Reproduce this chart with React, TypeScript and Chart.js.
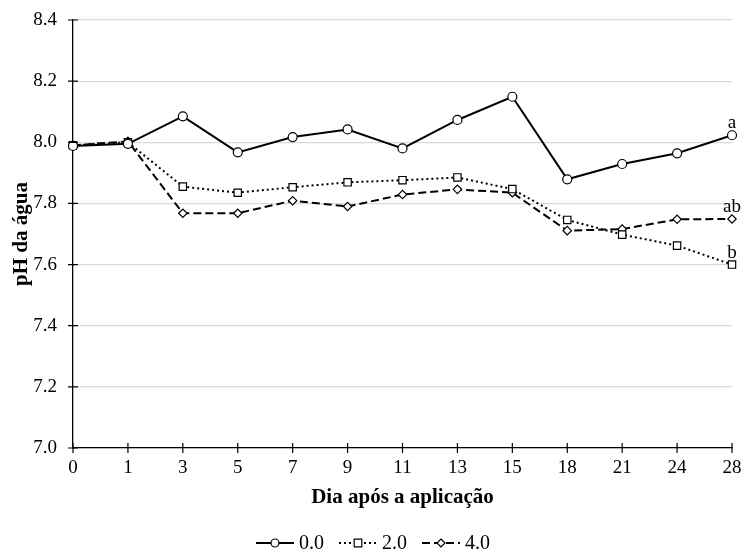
import React, { useEffect, useRef } from "react";
import { Chart, registerables } from "chart.js";

Chart.register(...registerables);

const days = ["0", "1", "3", "5", "7", "9", "11", "13", "15", "18", "21", "24", "28"];
const series00 = [7.988, 7.995, 8.085, 7.967, 8.017, 8.042, 7.98, 8.073, 8.149, 7.879, 7.929, 7.964, 8.023];
const series20 = [7.99, 8.0, 7.855, 7.835, 7.853, 7.869, 7.876, 7.885, 7.847, 7.746, 7.698, 7.662, 7.6];
const series40 = [7.99, 8.003, 7.768, 7.768, 7.809, 7.79, 7.829, 7.846, 7.835, 7.711, 7.716, 7.748, 7.749];
const seriesNames = ["0.0", "2.0", "4.0"];
const endLetters = ["a", "b", "ab"];
const yTicks = [7.0, 7.2, 7.4, 7.6, 7.8, 8.0, 8.2, 8.4];

const FONT = "'Liberation Serif', 'Times New Roman', serif";

const styles = [
  { dash: [] as number[], pointStyle: "circle", radius: 4.5 },
  { dash: [2, 3], pointStyle: "rect", radius: 5.2 },
  { dash: [8, 4], pointStyle: "rectRot", radius: 4.2 },
];

function drawMarker(ctx: CanvasRenderingContext2D, style: string, x: number, y: number) {
  ctx.save();
  ctx.setLineDash([]);
  ctx.fillStyle = "#fff";
  ctx.strokeStyle = "#000";
  ctx.lineWidth = 1.2;
  ctx.beginPath();
  if (style === "circle") {
    ctx.arc(x, y, 4, 0, Math.PI * 2);
  } else if (style === "rect") {
    ctx.rect(x - 3.8, y - 3.8, 7.6, 7.6);
  } else {
    ctx.moveTo(x, y - 4);
    ctx.lineTo(x + 4, y);
    ctx.lineTo(x, y + 4);
    ctx.lineTo(x - 4, y);
    ctx.closePath();
  }
  ctx.fill();
  ctx.stroke();
  ctx.restore();
}

const crossTicksPlugin = {
  id: "crossTicks",
  afterDraw(chart: any) {
    const { ctx, chartArea, scales } = chart;
    const x = scales.x;
    const y = scales.y;
    ctx.save();
    ctx.strokeStyle = "#000";
    ctx.lineWidth = 1.2;
    ctx.beginPath();
    yTicks.forEach((v) => {
      const py = y.getPixelForValue(v);
      ctx.moveTo(chartArea.left - 5, py);
      ctx.lineTo(chartArea.left + 5, py);
    });
    days.forEach((_, i) => {
      const px = x.getPixelForValue(i);
      ctx.moveTo(px, chartArea.bottom - 5);
      ctx.lineTo(px, chartArea.bottom + 5);
    });
    ctx.stroke();
    ctx.restore();
  },
};

const lettersPlugin = {
  id: "letters",
  afterDatasetsDraw(chart: any) {
    const { ctx, scales } = chart;
    const all = [series00, series20, series40];
    ctx.save();
    ctx.font = `19px ${FONT}`;
    ctx.fillStyle = "#000";
    ctx.textAlign = "center";
    ctx.textBaseline = "middle";
    all.forEach((data, i) => {
      const last = data.length - 1;
      const px = scales.x.getPixelForValue(last);
      const py = scales.y.getPixelForValue(data[last]);
      ctx.fillText(endLetters[i], px, py - 12);
    });
    ctx.restore();
  },
};

const legendPlugin = {
  id: "customLegend",
  afterDraw(chart: any) {
    const { ctx } = chart;
    ctx.save();
    ctx.font = `20px ${FONT}`;
    ctx.textBaseline = "middle";
    ctx.textAlign = "left";
    const sample = 38;
    const gap = 5;
    const spacing = 15;
    const widths = seriesNames.map((n) => sample + gap + ctx.measureText(n).width);
    const total = widths.reduce((a, b) => a + b, 0) + spacing * (seriesNames.length - 1);
    let x = chart.width / 2 + 1 - total / 2;
    const y = 543;
    seriesNames.forEach((n, i) => {
      const st = styles[i];
      ctx.save();
      ctx.strokeStyle = "#000";
      ctx.lineWidth = 2;
      ctx.setLineDash(st.dash);
      ctx.beginPath();
      ctx.moveTo(x, y);
      ctx.lineTo(x + sample, y);
      ctx.stroke();
      ctx.restore();
      drawMarker(ctx, st.pointStyle, x + sample / 2, y);
      ctx.fillStyle = "#000";
      ctx.fillText(n, x + sample + gap, y + 1);
      x += widths[i] + spacing;
    });
    ctx.restore();
  },
};

export default function App() {
  const ref = useRef<HTMLCanvasElement | null>(null);
  useEffect(() => {
    if (!ref.current) return;
    const all = [series00, series20, series40];
    const chart = new Chart(ref.current, {
      type: "line",
      data: {
        labels: days,
        datasets: all.map((data, i) => ({
          label: seriesNames[i],
          data,
          borderColor: "#000",
          backgroundColor: "#fff",
          borderWidth: 2,
          borderDash: styles[i].dash,
          pointStyle: styles[i].pointStyle as any,
          pointRadius: styles[i].radius,
          pointBorderWidth: 1.2,
          pointBorderColor: "#000",
          pointBackgroundColor: "#fff",
          tension: 0,
          fill: false,
        })),
      },
      options: {
        responsive: false,
        animation: false,
        layout: { padding: { left: 0, right: 12, top: 20, bottom: 40 } },
        plugins: {
          legend: { display: false },
          tooltip: { enabled: false },
        },
        scales: {
          x: {
            type: "category",
            offset: false,
            grid: { display: false, drawTicks: false },
            border: { display: true, color: "#000", width: 1.3 },
            ticks: {
              color: "#000",
              font: { family: FONT, size: 19 },
              padding: 9,
              maxRotation: 0,
              autoSkip: false,
            },
            title: {
              display: true,
              text: "Dia após a aplicação",
              color: "#000",
              font: { family: FONT, size: 21, weight: "bold" },
              padding: { top: 2, bottom: 0 },
            },
            afterFit: (s: any) => {
              s.height = 62;
              s.paddingLeft = 0;
              s.paddingRight = 0;
            },
          },
          y: {
            min: 7.0,
            max: 8.4,
            grid: { color: "#d9d9d9", lineWidth: 1.2, drawTicks: false },
            border: { display: true, color: "#000", width: 1.3 },
            ticks: {
              stepSize: 0.2,
              color: "#000",
              font: { family: FONT, size: 19 },
              padding: 16,
              callback: (v: any) => Number(v).toFixed(1),
            },
            title: {
              display: true,
              text: "pH da água",
              color: "#000",
              font: { family: FONT, size: 21, weight: "bold" },
              padding: { top: 9, bottom: 0 },
            },
            afterFit: (s: any) => {
              s.width = 73;
              s.paddingTop = 0;
              s.paddingBottom = 0;
            },
          },
        },
      },
      plugins: [crossTicksPlugin, lettersPlugin, legendPlugin],
    });
    return () => chart.destroy();
  }, []);
  return (
    <canvas
      ref={ref}
      width={744}
      height={550}
      style={{ position: "absolute", left: 0, top: 0, display: "block", background: "#fff" }}
    />
  );
}
